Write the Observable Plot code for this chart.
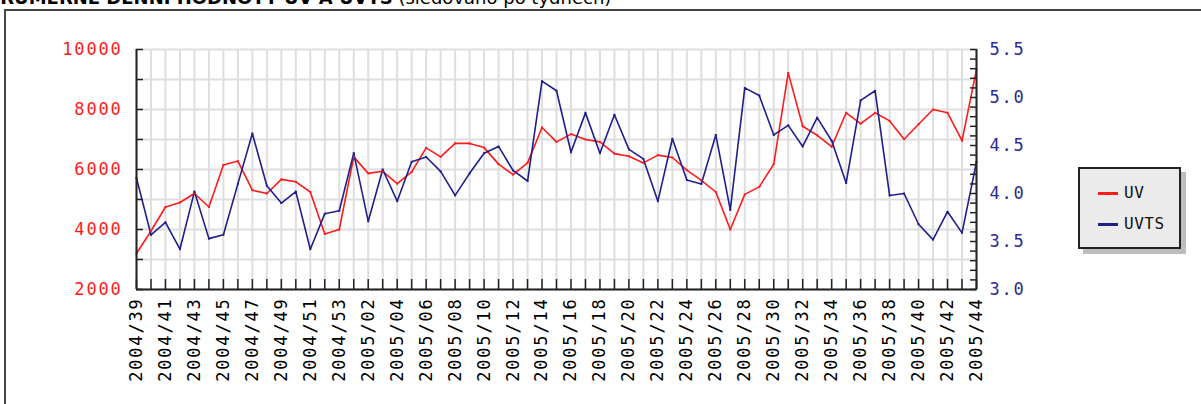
<!DOCTYPE html>
<html>
<head>
<meta charset="utf-8">
<script src="https://cdn.jsdelivr.net/npm/d3@7"></script>
<script src="https://cdn.jsdelivr.net/npm/@observablehq/plot@0.6"></script>
<style>
  html, body { margin:0; padding:0; background:#fff; width:1201px; height:404px; overflow:hidden; position:relative; }
  #title { position:absolute; top:-12px; left:-13px; white-space:nowrap; font-family:"DejaVu Sans", sans-serif; font-size:18px; line-height:20px; color:#000; }
  #title b { font-weight:bold; }
  #frame { position:absolute; left:4px; top:9px; width:1400px; height:600px; border:2px solid #444; box-sizing:border-box; }
  #chart { position:absolute; left:0; top:0; }
  #chart svg text { letter-spacing:1.8px; }
  #legend { position:absolute; left:1078px; top:167px; width:103px; height:82px; box-sizing:border-box; background:#ebebeb; border:2px solid #222; box-shadow:5px 5px 0 #bdbdbd; font-family:"DejaVu Sans Mono", monospace; font-size:16px; color:#111; }
  .item { position:absolute; left:18px; height:20px; line-height:20px; }
  .item span.sw { position:absolute; left:0; top:9px; width:20px; height:3px; }
  .item span.lb { position:absolute; left:26px; top:0; letter-spacing:0.5px; }
</style>
</head>
<body>
<div id="title"><b>PRŮMĚRNÉ DENNÍ HODNOTY UV A UVTS</b> (sledováno po týdnech)</div>
<div id="frame"></div>
<div id="chart"></div>
<div id="legend">
  <div class="item" style="top:14px"><span class="sw" style="background:#ff1a1a"></span><span class="lb">UV</span></div>
  <div class="item" style="top:45px"><span class="sw" style="background:#1e1e8c"></span><span class="lb">UVTS</span></div>
</div>
<script>
const weeks = ["2004/39","2004/40","2004/41","2004/42","2004/43","2004/44","2004/45","2004/46","2004/47","2004/48","2004/49","2004/50","2004/51","2004/52","2004/53",
  "2005/01","2005/02","2005/03","2005/04","2005/05","2005/06","2005/07","2005/08","2005/09","2005/10","2005/11","2005/12","2005/13","2005/14","2005/15",
  "2005/16","2005/17","2005/18","2005/19","2005/20","2005/21","2005/22","2005/23","2005/24","2005/25","2005/26","2005/27","2005/28","2005/29","2005/30",
  "2005/31","2005/32","2005/33","2005/34","2005/35","2005/36","2005/37","2005/38","2005/39","2005/40","2005/41","2005/42","2005/43","2005/44"];

const uv = [3200,3950,4750,4900,5200,4750,6150,6280,5310,5200,5670,5590,5250,3850,4000,
  6420,5870,5940,5530,5920,6720,6420,6870,6870,6730,6180,5830,6220,7400,6920,
  7180,7000,6920,6530,6440,6220,6480,6400,5980,5640,5250,4000,5170,5420,6180,
  9220,7440,7140,6760,7890,7530,7890,7620,7010,7510,8000,7890,6960,9330];

const uvts = [4.16,3.57,3.70,3.42,4.02,3.53,3.57,4.10,4.625,4.08,3.90,4.02,3.42,3.79,3.82,
  4.42,3.71,4.25,3.92,4.33,4.38,4.23,3.98,4.21,4.42,4.49,4.24,4.13,5.17,5.07,
  4.43,4.84,4.42,4.82,4.46,4.36,3.92,4.57,4.14,4.10,4.61,3.83,5.10,5.02,4.61,
  4.71,4.49,4.79,4.55,4.11,4.97,5.07,3.98,4.00,3.68,3.52,3.81,3.59,4.33];

const leftLabels = [2000,4000,6000,8000,10000];
const leftMinor = [2000,3000,4000,5000,6000,7000,8000,9000,10000];
const rightLabels = [3.0,3.5,4.0,4.5,5.0,5.5];
const rightMinor = [3.0,3.1,3.2,3.3,3.4,3.5,3.6,3.7,3.8,3.9,4.0,4.1,4.2,4.3,4.4,4.5,4.6,4.7,4.8,4.9,5.0,5.1,5.2,5.3,5.4,5.5];

// right axis (UVTS 3.0–5.5) mapped onto left axis (2000–10000)
const toLeft = u => 2000 + (u - 3) * 3200;
const fromLeft = v => 3 + (v - 2000) / 3200;

const data = weeks.map((w, i) => ({week: w, uv: uv[i], uvts: toLeft(uvts[i])}));
const labelWeeks = weeks.filter((d, i) => i % 2 === 0);

const RED = "#ff1a1a", BLUE = "#1e1e8c", GRID = "#dedede", AX = "#222";

const chart = Plot.plot({
  width: 1201, height: 404,
  marginLeft: 136, marginRight: 225, marginTop: 49, marginBottom: 115,
  style: {fontFamily: "DejaVu Sans Mono", fontSize: "17px", background: "transparent", overflow: "visible"},
  x: {type: "point", domain: weeks, padding: 0, round: false, label: null},
  y: {domain: [2000, 10000], label: null},
  marks: [
    Plot.gridX(weeks, {stroke: GRID, strokeOpacity: 1, strokeWidth: 2}),
    Plot.gridY(leftMinor, {stroke: GRID, strokeOpacity: 1, strokeWidth: 2}),
    Plot.lineY(data, {x: "week", y: "uv", stroke: RED, strokeWidth: 1.6}),
    Plot.lineY(data, {x: "week", y: "uvts", stroke: BLUE, strokeWidth: 1.6}),
    Plot.dot(data, {x: "week", y: "uv", fill: RED, r: 1.1, symbol: "square"}),
    Plot.dot(data, {x: "week", y: "uvts", fill: BLUE, r: 1.1, symbol: "square"}),
    Plot.axisX(weeks, {tickSize: -10, tickFormat: () => "", stroke: AX, strokeWidth: 1.5, label: null}),
    Plot.axisX(labelWeeks, {tickSize: 0, tickPadding: 8, tickRotate: -90, fill: "#000", label: null}),
    Plot.axisY(leftMinor, {anchor: "left", tickSize: -7, tickFormat: () => "", stroke: AX, strokeWidth: 1.5, label: null}),
    Plot.axisY(leftLabels, {anchor: "left", tickSize: 0, tickPadding: 14, fill: RED, tickFormat: d => String(d), label: null}),
    Plot.axisY(rightMinor.map(toLeft), {anchor: "right", tickSize: -7, tickFormat: () => "", stroke: AX, strokeWidth: 1.5, label: null}),
    Plot.axisY(rightLabels.map(toLeft), {anchor: "right", tickSize: 0, tickPadding: 13, fill: "#2a2a9a", tickFormat: v => fromLeft(v).toFixed(1), label: null}),
    Plot.ruleY([2000], {stroke: AX, strokeWidth: 2}),
    Plot.ruleX([weeks[0], weeks[weeks.length - 1]], {stroke: AX, strokeWidth: 2})
  ]
});
document.getElementById("chart").appendChild(chart);
</script>
</body>
</html>
